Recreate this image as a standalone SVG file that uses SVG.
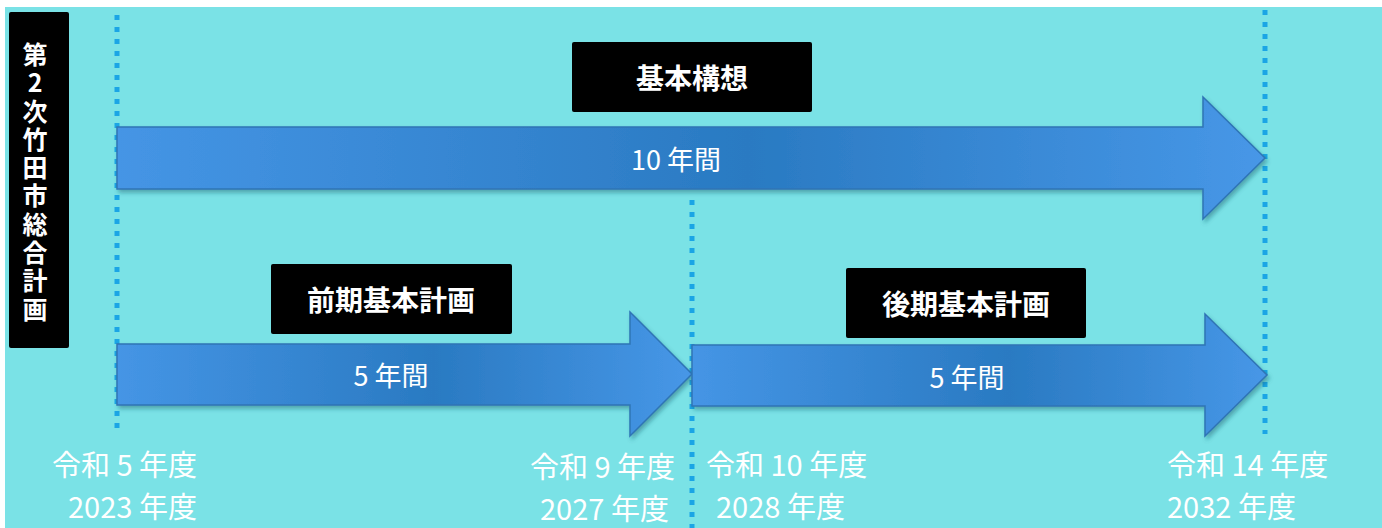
<svg xmlns="http://www.w3.org/2000/svg" width="1382" height="528" viewBox="0 0 1382 528">
<defs>
<linearGradient id="ag" x1="0" y1="0" x2="1" y2="0">
<stop offset="0" stop-color="#4595E5"/>
<stop offset="0.55" stop-color="#2A7AC2"/>
<stop offset="1" stop-color="#4797E7"/>
</linearGradient>
<filter id="sh" x="-5%" y="-20%" width="110%" height="140%">
<feDropShadow dx="2" dy="3" stdDeviation="2" flood-color="#1E5A6A" flood-opacity="0.45"/>
</filter>
</defs>
<style>
.dot{stroke:#1BA5E5;stroke-width:5;stroke-dasharray:5 7;fill:none}
.arrow{fill:url(#ag);stroke:#2F74B5;stroke-width:1.5;filter:url(#sh)}
.box{fill:#000000}
.ttl{font-family:"Noto Sans CJK JP","Noto Sans",sans-serif;font-weight:bold;font-size:28px;fill:#FFFFFF;text-anchor:middle}
.dur{font-family:"Noto Sans CJK JP","Noto Sans",sans-serif;font-size:27px;fill:#FFFFFF;text-anchor:middle}
.yr{font-family:"Noto Sans CJK JP","Noto Sans",sans-serif;font-size:29px;fill:#FFFFFF}
.vt{font-family:"Noto Sans CJK JP","Noto Sans",sans-serif;font-weight:bold;font-size:25px;fill:#FFFFFF;writing-mode:vertical-rl;text-orientation:upright;letter-spacing:3.3px}
</style>
<rect x="0" y="0" width="1382" height="528" fill="#FFFFFF"/>
<rect x="5" y="7" width="1377" height="521" fill="#7AE2E6"/>

<g id="connectors">
<line class="dot" x1="117" y1="15" x2="117" y2="430"/>
<line class="dot" x1="1265" y1="10" x2="1265" y2="434"/>
<line class="dot" x1="692" y1="200" x2="692" y2="528"/>
</g>

<g id="arrow-kihon">
<path class="arrow" d="M117,127 L1203,127 L1203,97 L1265,158 L1203,219 L1203,189 L117,189 Z"/>
<text class="dur" x="676" y="170">10 年間</text>
</g>
<g id="arrow-zenki">
<path class="arrow" d="M117,344 L630,344 L630,312 L692,374 L630,436 L630,405 L117,405 Z"/>
<text class="dur" x="391" y="386">5 年間</text>
</g>
<g id="arrow-koki">
<path class="arrow" d="M692,345 L1205,345 L1205,314 L1267,375 L1205,436 L1205,406 L692,406 Z"/>
<text class="dur" x="967" y="388">5 年間</text>
</g>

<g id="label-main">
<rect class="box" x="9" y="12" width="60" height="336" rx="2"/>
<text class="vt" x="35" y="42">第2次竹田市総合計画</text>
</g>

<g id="label-kihonkoso">
<rect class="box" x="572" y="42" width="240" height="70" rx="2"/>
<text class="ttl" x="692" y="89">基本構想</text>
</g>
<g id="label-zenki">
<rect class="box" x="271" y="264" width="241" height="70" rx="2"/>
<text class="ttl" x="391" y="311">前期基本計画</text>
</g>
<g id="label-koki">
<rect class="box" x="846" y="268" width="240" height="70" rx="2"/>
<text class="ttl" x="966" y="315">後期基本計画</text>
</g>

<g id="years">
<text class="yr" x="52" y="476">令和 5 年度</text>
<text class="yr" x="68" y="518">2023 年度</text>
<text class="yr" x="530" y="478">令和 9 年度</text>
<text class="yr" x="540" y="520">2027 年度</text>
<text class="yr" x="706" y="476">令和 10 年度</text>
<text class="yr" x="716" y="518">2028 年度</text>
<text class="yr" x="1167" y="476">令和 14 年度</text>
<text class="yr" x="1167" y="518">2032 年度</text>
</g>
</svg>
